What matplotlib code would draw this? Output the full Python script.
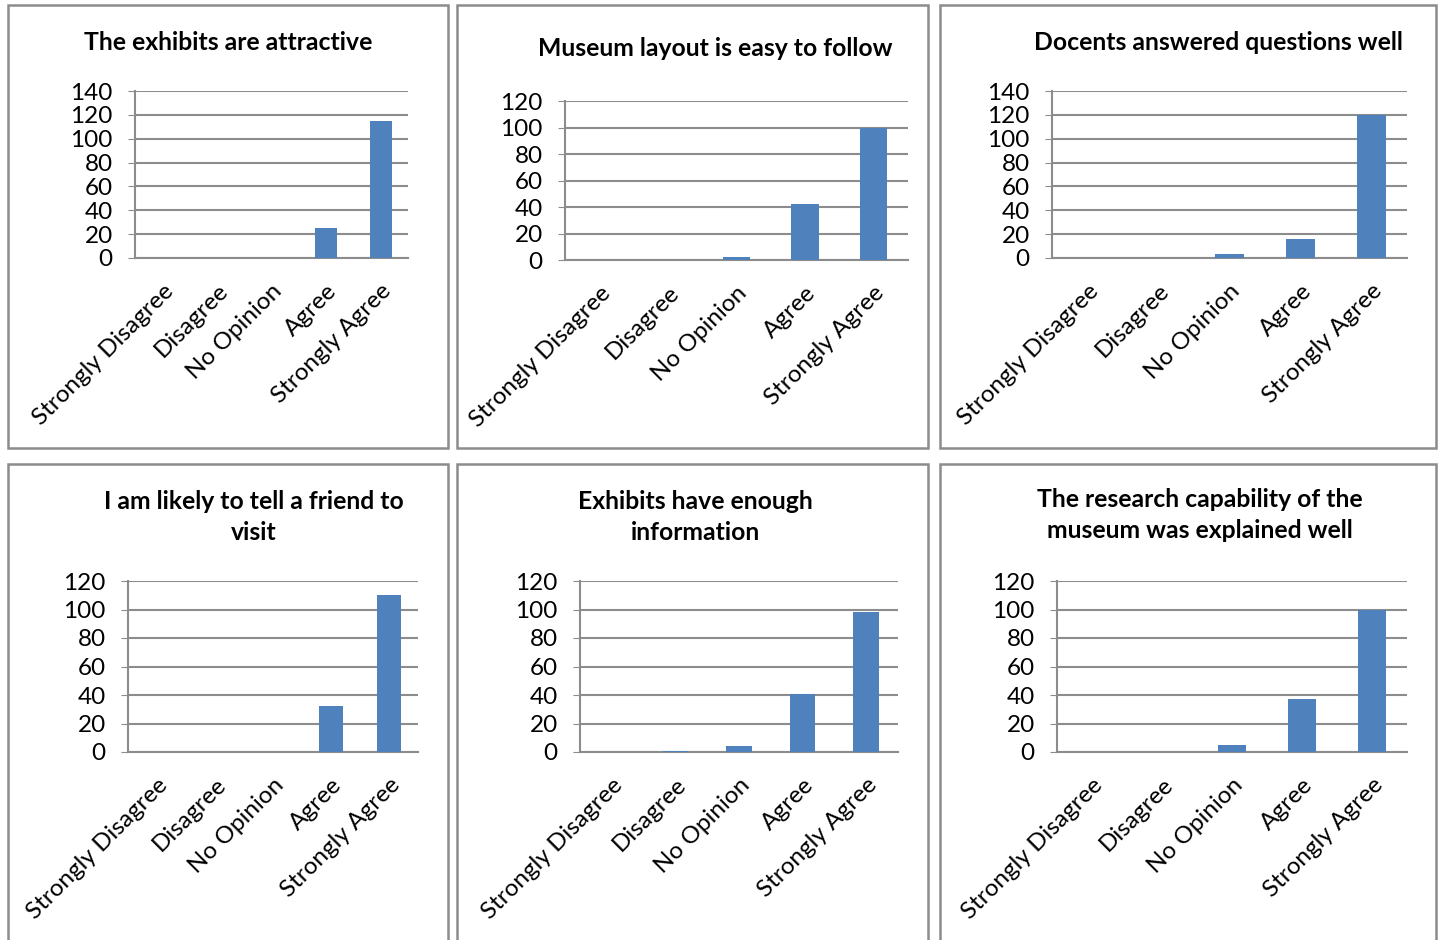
import matplotlib
matplotlib.use("Agg")
import matplotlib.pyplot as plt
from matplotlib.patches import Rectangle

plt.rcParams['font.family'] = ['Lato', 'DejaVu Sans']

# === Datos ===
categorias = ["Strongly Disagree", "Disagree", "No Opinion", "Agree", "Strongly Agree"]

titulos = [
    "The exhibits are attractive",
    "Museum layout is easy to follow",
    "Docents answered questions well",
    "I am likely to tell a friend to\nvisit",
    "Exhibits have enough\ninformation",
    "The research capability of the\nmuseum was explained well",
]

atractivo = [0, 0, 0, 25, 115]
disposicion = [0, 0, 2, 42, 100]
guias = [0, 0, 3, 16, 120]
recomendar = [0, 0, 0, 32, 110]
informacion = [0, 1, 4, 41, 98]
investigacion = [0, 0, 5, 37, 100]

series = [atractivo, disposicion, guias, recomendar, informacion, investigacion]
ymax = [140, 120, 140, 120, 120, 120]

# === Posiciones (pixeles de la imagen 1439x940) ===
W, H = 1439, 940
cajas = [(8, 5, 448, 448), (457, 5, 928, 448), (940, 5, 1436, 448),
         (8, 464, 448, 945), (457, 464, 928, 945), (940, 464, 1436, 945)]
ejes = [(135, 91, 408, 258), (565, 101, 908, 260), (1052, 91, 1407, 258),
        (128, 581, 418, 752), (580, 581, 898, 752), (1057, 581, 1407, 752)]
pos_titulo = [(228, 43), (715, 48), (1218, 43), (254, 517), (695, 517), (1200, 515)]

fig = plt.figure(figsize=(W / 100, H / 100), dpi=100)

for (x0, y0, x1, y1) in cajas:
    fig.patches.append(Rectangle((x0 / W, 1 - y1 / H), (x1 - x0) / W, (y1 - y0) / H,
                                 transform=fig.transFigure, fill=False,
                                 edgecolor='#8c8c8c', linewidth=1.8))

for i in range(6):
    x0, y0, x1, y1 = ejes[i]
    ax = fig.add_axes([x0 / W, 1 - y1 / H, (x1 - x0) / W, (y1 - y0) / H])
    ax.bar(range(5), series[i], width=0.4, color='#4F81BD', zorder=3)
    ax.set_xlim(-0.5, 4.5)
    ax.set_ylim(0, ymax[i])
    ax.set_yticks(range(0, ymax[i] + 1, 20))
    ax.yaxis.grid(True, color='#8c8c8c', linewidth=1.5, zorder=0)
    for lado in ['top', 'right']:
        ax.spines[lado].set_visible(False)
    for lado in ['left', 'bottom']:
        ax.spines[lado].set_color('#8c8c8c')
        ax.spines[lado].set_linewidth(1.5)
    ax.tick_params(axis='y', labelsize=17.5, length=5, color='#8c8c8c', pad=11)
    ax.tick_params(axis='x', length=0, pad=16)
    ax.set_xticks(range(5))
    ax.set_xticklabels(categorias, rotation=45, ha='right', rotation_mode='anchor', fontsize=17.5)

    tx, ty = pos_titulo[i]
    fig.text(tx / W, 1 - ty / H, titulos[i], ha='center', va='center',
             fontsize=17.8, fontweight='bold', linespacing=1.45)

fig.savefig("out.png", dpi=100)
